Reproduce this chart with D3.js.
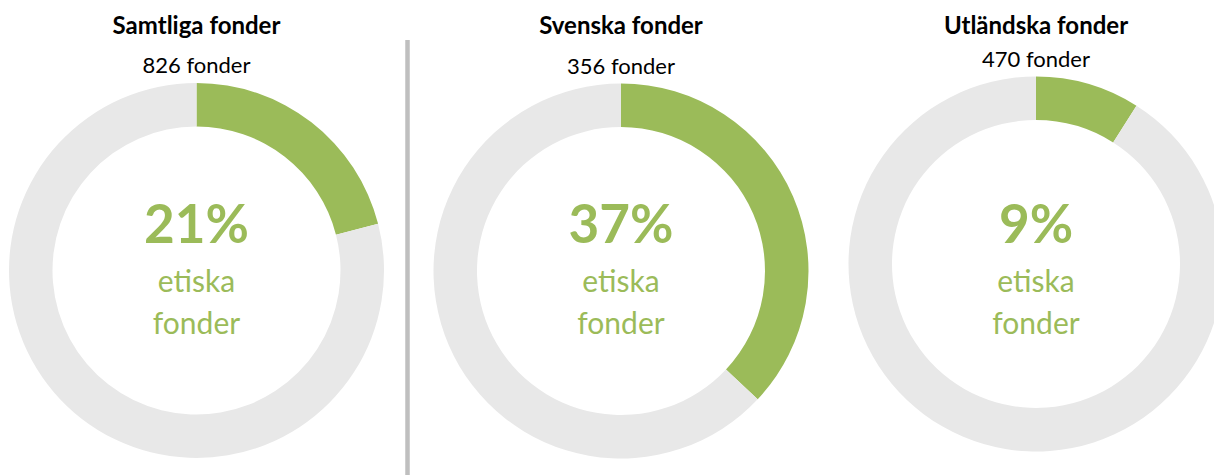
<!DOCTYPE html>
<html>
<head>
<meta charset="utf-8">
<script src="https://cdn.jsdelivr.net/npm/d3@7"></script>
<style>
  body { margin: 0; background: #fff; }
  text { font-family: Lato, "Open Sans", sans-serif; }
</style>
</head>
<body>
<div id="vis"></div>
<script>
// data
const titles = ['Samtliga fonder', 'Svenska fonder', 'Utländska fonder']
const fundCounts = [826, 356, 470]
const ethicalShare = [21, 37, 9]
const centerLines = ['etiska', 'fonder']

// layout
const W = 1214, H = 475
const green = '#9bbb59', grey = '#e8e8e8'

let svg = d3.select('#vis')
  .append('svg')
  .attr('width', W)
  .attr('height', H)
  .attr('viewBox', [0, 0, W, H].join(' '))

// donut centres (not evenly spaced in the original)
let x = d3.scaleOrdinal()
  .domain(titles)
  .range([196.5, 621, 1036])
let y = d3.scaleOrdinal()
  .domain(titles)
  .range([270.5, 271, 264])

let outerR = 187.5, innerR = 144

let pie = d3.pie().sort(null).value(d => d)
let arc = d3.arc().innerRadius(innerR).outerRadius(outerR)

// divider between first and the others
svg.append('line')
  .attr('x1', 407.5).attr('x2', 407.5)
  .attr('y1', 40).attr('y2', H)
  .attr('stroke', '#bfbfbf')
  .attr('stroke-width', 4.5)

titles.forEach((t, i) => {
  let cx = x(t), cy = y(t)
  let g = svg.append('g').attr('transform', `translate(${cx},${cy})`)

  g.selectAll('path')
    .data(pie([ethicalShare[i], 100 - ethicalShare[i]]))
    .join('path')
    .attr('d', arc)
    .attr('fill', (d, j) => j === 0 ? green : grey)

  // title + count above the ring
  svg.append('text')
    .attr('x', cx).attr('y', 34)
    .attr('text-anchor', 'middle')
    .attr('font-weight', 'bold')
    .attr('font-size', 24)
    .attr('fill', '#000')
    .text(t)

  svg.append('text')
    .attr('x', cx).attr('y', cy - outerR - 10)
    .attr('text-anchor', 'middle')
    .attr('font-size', 22)
    .attr('fill', '#000')
    .text(fundCounts[i] + ' fonder')

  // centre labels
  svg.append('text')
    .attr('x', cx).attr('y', 243)
    .attr('text-anchor', 'middle')
    .attr('font-weight', 'bold')
    .attr('font-size', 53)
    .attr('fill', green)
    .text(ethicalShare[i] + '%')

  centerLines.forEach((l, k) => {
    svg.append('text')
      .attr('x', cx).attr('y', 292 + k * 42)
      .attr('text-anchor', 'middle')
      .attr('font-size', 30)
      .attr('fill', green)
      .text(l)
  })
})
</script>
</body>
</html>
